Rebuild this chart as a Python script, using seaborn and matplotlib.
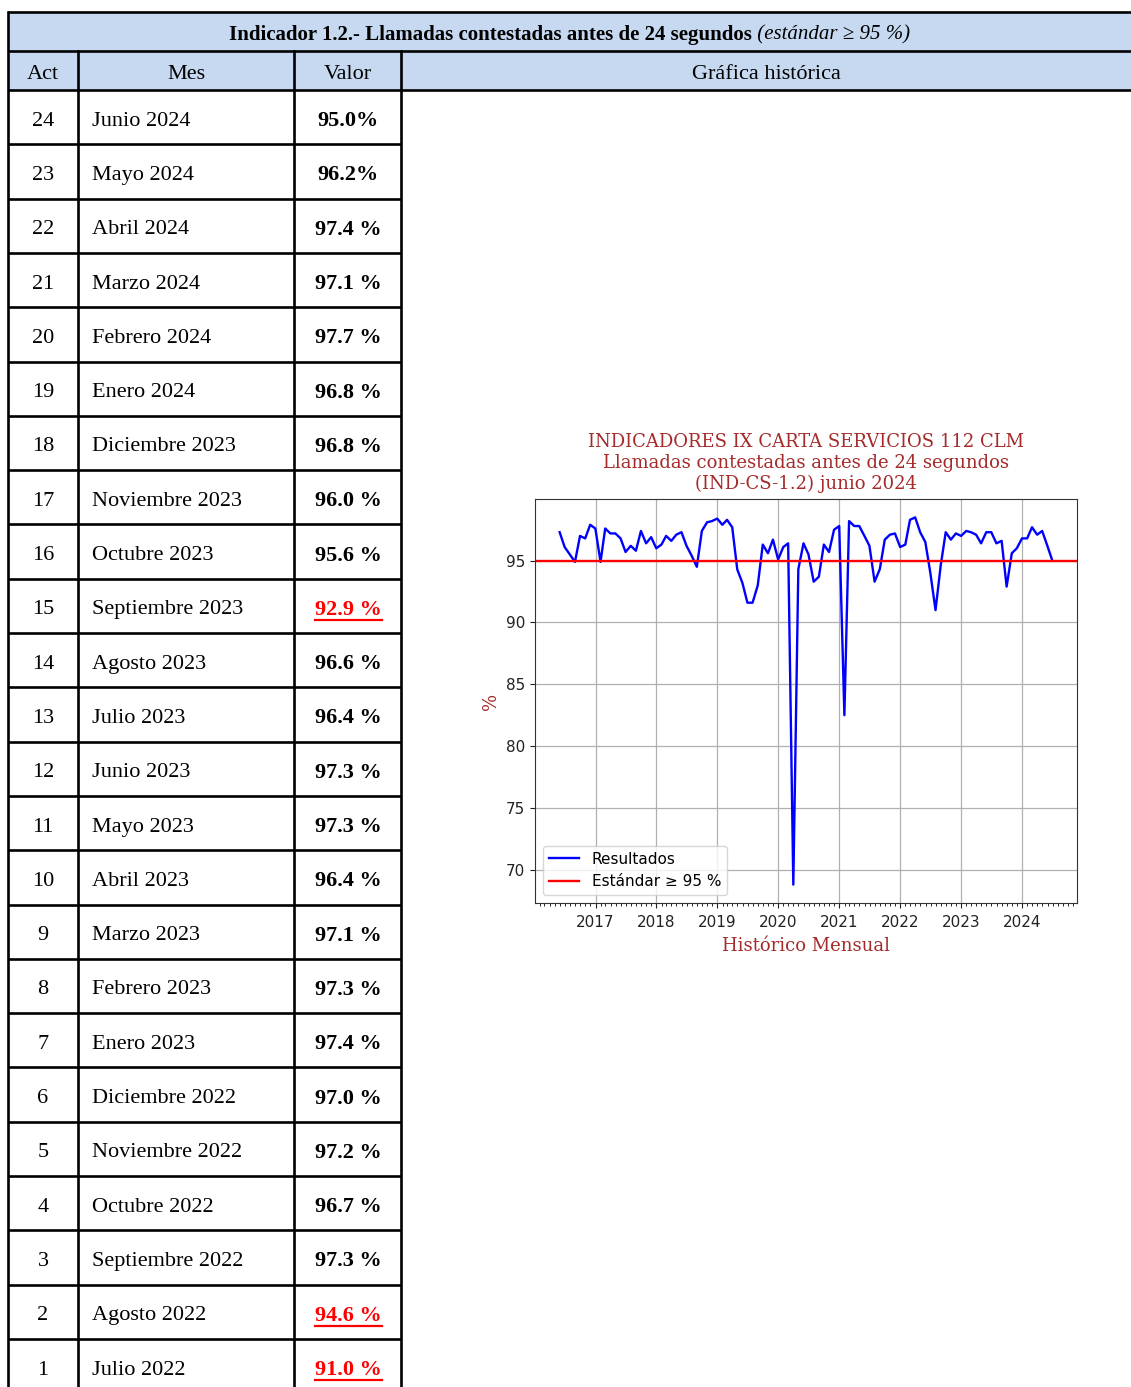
import matplotlib
matplotlib.use("Agg")
import matplotlib.pyplot as plt
import matplotlib.dates as mdates
import numpy as np
import pandas as pd
import seaborn as sns

# ---- data -------------------------------------------------------------
# monthly results May 2016 .. Jun 2022
historico = [97.3, 96.1, 95.5, 94.9, 97.0, 96.8, 97.9, 97.6, 94.9, 97.6,
             97.2, 97.2, 96.8, 95.7, 96.2, 95.8, 97.4, 96.4, 96.9, 96.0,
             96.3, 97.0, 96.6, 97.1, 97.3, 96.2, 95.4, 94.5, 97.4, 98.1,
             98.2, 98.4, 97.9, 98.3, 97.7, 94.3, 93.2, 91.6, 91.6, 93.0,
             96.3, 95.6, 96.7, 95.1, 96.1, 96.4, 68.8, 94.3, 96.4, 95.5,
             93.3, 93.7, 96.3, 95.7, 97.5, 97.8, 82.5, 98.2, 97.8, 97.8,
             97.0, 96.2, 93.3, 94.3, 96.7, 97.1, 97.2, 96.1, 96.3, 98.3,
             98.5, 97.3, 96.5, 94.0]

# table rows, newest first
acts = list(range(24, 0, -1))
meses = ["Junio 2024", "Mayo 2024", "Abril 2024", "Marzo 2024", "Febrero 2024",
         "Enero 2024", "Diciembre 2023", "Noviembre 2023", "Octubre 2023",
         "Septiembre 2023", "Agosto 2023", "Julio 2023", "Junio 2023", "Mayo 2023",
         "Abril 2023", "Marzo 2023", "Febrero 2023", "Enero 2023", "Diciembre 2022",
         "Noviembre 2022", "Octubre 2022", "Septiembre 2022", "Agosto 2022", "Julio 2022"]
valores = [95.0, 96.2, 97.4, 97.1, 97.7, 96.8, 96.8, 96.0, 95.6, 92.9, 96.6, 96.4,
           97.3, 97.3, 96.4, 97.1, 97.3, 97.4, 97.0, 97.2, 96.7, 97.3, 94.6, 91.0]
valor_txt = ["95.0%", "96.2%"] + [f"{v:.1f} %" for v in valores[2:]]

estandar = 95

serie = historico + valores[::-1]
fechas = pd.date_range(start="2016-05-01", periods=len(serie), freq="MS") + pd.offsets.MonthEnd(0)
df = pd.DataFrame({"fecha": fechas, "valor": serie})

# ---- figure / table ---------------------------------------------------
W, H = 1131, 1387
fig = plt.figure(figsize=(W / 100, H / 100), dpi=100)
bg = fig.add_axes([0, 0, 1, 1])
bg.set_xlim(0, W)
bg.set_ylim(H, 0)
bg.axis("off")

serif = ["Liberation Serif", "DejaVu Serif"]
azul = "#C6D9F1"
lw = 1.9

x_left, x_act, x_mes, x_val, x_right = 8, 78, 294, 401, W + 5
y_top, y_head, y_body = 12, 51, 90
row_h = 54.3

bg.add_patch(plt.Rectangle((x_left, y_top), x_right - x_left, y_body - y_top,
                           facecolor=azul, edgecolor="none"))
for y in (y_top, y_head, y_body):
    bg.plot([x_left, x_right], [y, y], color="black", lw=lw, solid_capstyle="butt")
bg.plot([x_left, x_left], [y_top, H + 5], color="black", lw=lw)
for x in (x_act, x_mes, x_val):
    bg.plot([x, x], [y_head, H + 5], color="black", lw=lw)
for i in range(1, len(acts)):
    y = y_body + i * row_h
    bg.plot([x_left, x_val], [y, y], color="black", lw=lw, solid_capstyle="butt")

# title row (bold + italic pieces)
renderer = fig.canvas.get_renderer()
t1 = bg.text(0, 35, "Indicador 1.2.- Llamadas contestadas antes de 24 segundos",
             family=serif, fontsize=15, fontweight="bold", va="center", ha="left")
t2 = bg.text(0, 35, " (estándar ≥ 95 %)", family=serif, fontsize=15,
             fontstyle="italic", va="center", ha="left")
w1 = t1.get_window_extent(renderer).width
w2 = t2.get_window_extent(renderer).width
x0 = (x_left + W) / 2 - (w1 + w2) / 2
t1.set_x(x0)
t2.set_x(x0 + w1)

y_hc = (y_head + y_body) / 2 + 4
for txt, xc in [("Act", (x_left + x_act) / 2), ("Mes", (x_act + x_mes) / 2),
                ("Valor", (x_mes + x_val) / 2), ("Gráfica histórica", (x_val + W) / 2)]:
    bg.text(xc, y_hc, txt, family=serif, fontsize=16, ha="center", va="center")

for i, (a, m, v, vt) in enumerate(zip(acts, meses, valores, valor_txt)):
    yc = y_body + (i + 0.5) * row_h + 4
    bg.text((x_left + x_act) / 2, yc, str(a), family=serif, fontsize=16,
            ha="center", va="center")
    bg.text(92, yc, m, family=serif, fontsize=16, ha="left", va="center")
    color = "red" if v < estandar else "black"
    xc = (x_mes + x_val) / 2 + 1
    tv = bg.text(xc, yc, vt, family=serif, fontsize=16,
                 fontweight="bold", color=color, ha="center", va="center")
    if v < estandar:
        wv = tv.get_window_extent(renderer).width
        bg.plot([xc - wv / 2, xc + wv / 2], [yc + 10, yc + 10], color="red", lw=1.6)

# ---- historic chart ---------------------------------------------------
ax = fig.add_axes([535 / W, 1 - 903 / H, 542 / W, 404 / H])
sns.lineplot(data=df, x="fecha", y="valor", color="blue", linewidth=1.7,
             ax=ax, label="Resultados")
ax.axhline(estandar, color="red", linewidth=1.7, label="Estándar ≥ 95 %")
ax.grid(True, color="#b0b0b0", linewidth=0.9)
ax.set_axisbelow(True)

ax.xaxis.set_major_locator(mdates.YearLocator())
ax.xaxis.set_major_formatter(mdates.DateFormatter("%Y"))
ax.xaxis.set_minor_locator(mdates.MonthLocator())
ax.tick_params(axis="both", labelsize=11, colors="#222222", labelcolor="#222222")
ax.tick_params(axis="x", which="major", pad=5)
ax.tick_params(axis="x", which="minor", length=2.5)
for s in ax.spines.values():
    s.set_color("#333333")

brown = "#A52A2A"
ax.set_title("INDICADORES IX CARTA SERVICIOS 112 CLM\n"
             "Llamadas contestadas antes de 24 segundos\n"
             "(IND-CS-1.2) junio 2024",
             family="DejaVu Serif", fontsize=13, color=brown, linespacing=1.2, pad=7)
ax.set_xlabel("Histórico Mensual", family="DejaVu Serif", fontsize=13, color=brown,
              labelpad=5)
ax.set_ylabel("%", family="DejaVu Serif", fontsize=13, color=brown)
ax.legend(loc="lower left", fontsize=11)

fig.savefig("out.png", dpi=100)
